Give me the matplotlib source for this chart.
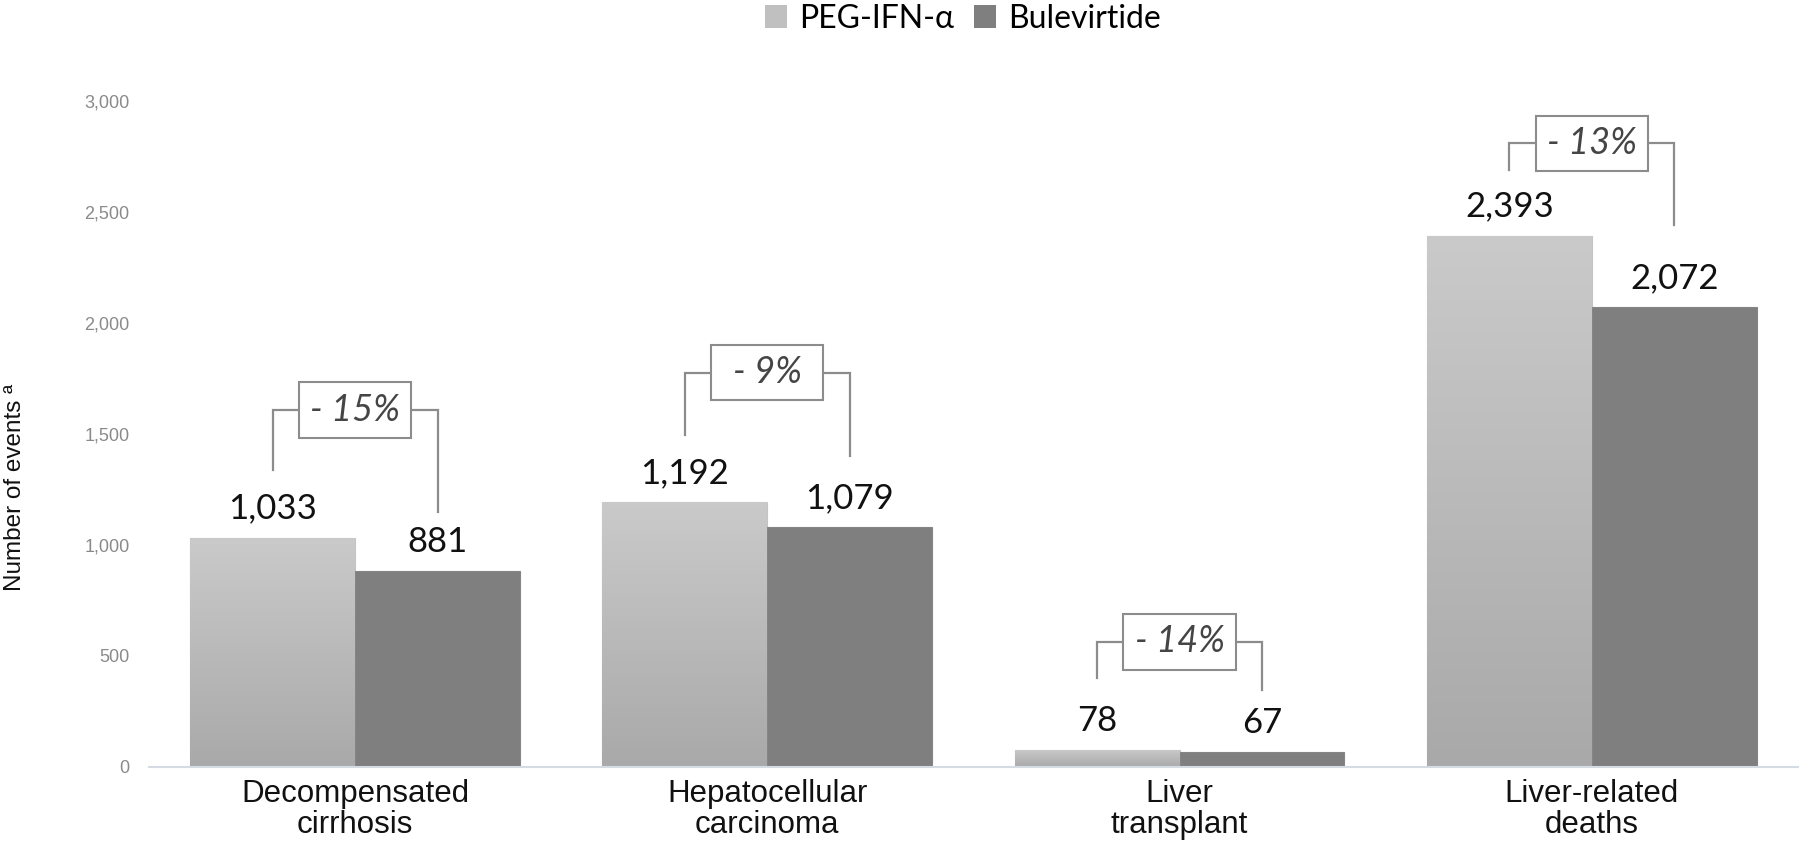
import matplotlib
matplotlib.use('Agg')
import matplotlib.pyplot as plt
import numpy as np
from matplotlib.patches import Patch, Rectangle
from matplotlib.colors import LinearSegmentedColormap

categories = ['Decompensated\ncirrhosis', 'Hepatocellular\ncarcinoma', 'Liver\ntransplant', 'Liver-related\ndeaths']
series_names = ['PEG-IFN-α', 'Bulevirtide']
peg_ifn = [1033, 1192, 78, 2393]
bulevirtide = [881, 1079, 67, 2072]
reduction_labels = ['- 15%', '- 9%', '- 14%', '- 13%']
y_ticks = [0, 500, 1000, 1500, 2000, 2500, 3000]

# layout constants for the bracket annotations (data units)
left_leg_gap = [305, 303, 323, 296]
right_leg_gap = [268, 322, 280, 369]
bracket_rise = [270, 280, 162, 121]
box_w = 0.272   # x data units
box_h = 248     # y data units

LIGHT = '#c0c0c0'
DARK = '#7f7f7f'
label_font = ['Lato', 'DejaVu Sans']
axis_font = ['Liberation Sans', 'DejaVu Sans']

fig = plt.figure(figsize=(18, 8.56), dpi=100)
ax = fig.add_axes([0.0828, 0.104, 0.916, 0.778])
x = np.arange(len(categories))
w = 0.4
bars1 = ax.bar(x - w / 2, peg_ifn, w, color=LIGHT, edgecolor='#c4c4c4', linewidth=0.8, zorder=2)
bars2 = ax.bar(x + w / 2, bulevirtide, w, color=DARK, edgecolor='#858585', linewidth=0.8, zorder=2)

# vertical gradient on the light bars
cmap = LinearSegmentedColormap.from_list('g', ['#a9a9a9', '#cacaca'])
grad = np.linspace(0, 1, 256).reshape(-1, 1)
for b in bars1:
    x0, y0 = b.get_x(), b.get_y()
    im = ax.imshow(grad, extent=[x0, x0 + b.get_width(), y0, y0 + b.get_height()],
                   origin='lower', aspect='auto', cmap=cmap, zorder=2.1)
    im.set_clip_path(b)

ax.set_xlim(-0.5, 3.5)
ax.set_ylim(0, 3000)
ax.set_aspect('auto')

for s in ['top', 'right', 'left']:
    ax.spines[s].set_visible(False)
ax.spines['bottom'].set_color('#d5dbe2')
ax.spines['bottom'].set_linewidth(1.5)
ax.spines['bottom'].set_zorder(3)

ax.set_yticks(y_ticks)
ax.set_yticklabels([f'{t:,}' for t in y_ticks], family=axis_font, fontsize=13, color='#8a8a8a')
ax.tick_params(axis='y', length=0, pad=14)
ax.set_xticks(x)
ax.set_xticklabels(categories, family=axis_font, fontsize=22.5, color='#111111', linespacing=1.06)
ax.tick_params(axis='x', length=0, pad=8.5)

# value labels
for xs, vals in ((x - w / 2, peg_ifn), (x + w / 2, bulevirtide)):
    for xi, v in zip(xs, vals):
        ax.annotate(f'{v:,}', (xi, v), xytext=(0, 13.7), textcoords='offset points',
                    ha='center', va='baseline', family=label_font, fontsize=25, color='#111111')

# brackets with reduction boxes
for i in range(len(categories)):
    xl, xr = x[i] - w / 2, x[i] + w / 2
    yl = peg_ifn[i] + left_leg_gap[i]
    yr = bulevirtide[i] + right_leg_gap[i]
    yt = yl + bracket_rise[i]
    ax.plot([xl, xl, xr, xr], [yl, yt, yt, yr], color='#8c8c8c', lw=1.6, zorder=3,
            solid_joinstyle='miter')
    ax.add_patch(Rectangle((x[i] - box_w / 2, yt - box_h / 2), box_w, box_h,
                           fc='white', ec='#8c8c8c', lw=1.5, zorder=4))
    ax.text(x[i], yt, reduction_labels[i], ha='center', va='center', family=label_font,
            style='italic', fontsize=26, color='#454545', zorder=5)

fig.text(0.0085, 0.431, 'Number of events ª', rotation=90, ha='center', va='center',
         family=axis_font, fontsize=17.5, color='#111111')

handles = [Patch(fc=LIGHT, ec='none'), Patch(fc=DARK, ec='none')]
fig.legend(handles, series_names, loc='center', bbox_to_anchor=(0.535, 0.978), ncol=2,
           frameon=False, handlelength=0.7, handleheight=0.7, handletextpad=0.38,
           columnspacing=0.62, borderpad=0, prop={'family': label_font, 'size': 23})

fig.savefig('out.png', dpi=100)
